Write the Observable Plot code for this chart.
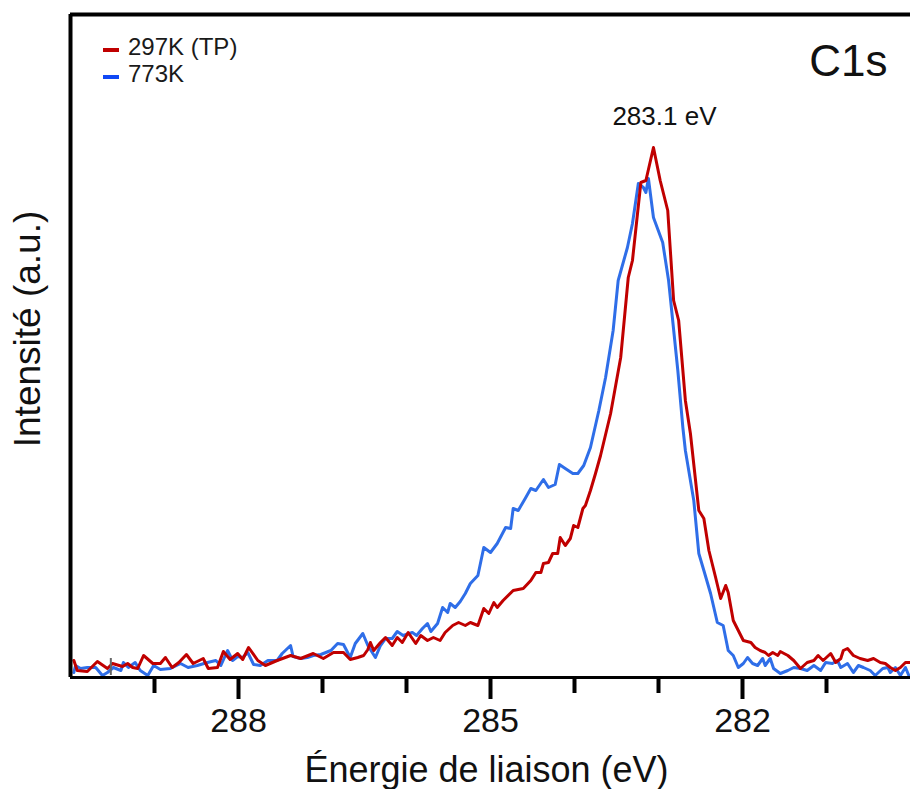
<!DOCTYPE html>
<html><head><meta charset="utf-8">
<script src="https://cdn.jsdelivr.net/npm/d3@7"></script>
<script src="https://cdn.jsdelivr.net/npm/@observablehq/plot@0.6"></script>
<style>
body{margin:0;background:#fff;}
#wrap{position:relative;width:910px;height:789px;font-family:"Liberation Sans",Arial,sans-serif;}
#legend{position:absolute;left:103px;top:33px;font-size:24px;line-height:27px;color:#1a1a1a;}
.item{display:flex;align-items:center;white-space:nowrap;}
.sw{display:inline-block;width:16px;height:4px;margin-right:9px;position:relative;top:3px;}
</style></head><body><div id="wrap"><div id="legend"></div></div>
<script>
// Binding energy (eV) and intensity (a.u.)
const redE = [289.96,289.92,289.80,289.68,289.56,289.50,289.38,289.32,289.26,289.20,
289.13,289.02,288.93,288.87,288.79,288.71,288.62,288.54,288.42,288.36,
288.25,288.18,288.10,288.01,287.95,287.88,287.77,287.68,287.54,287.38,
287.26,287.11,286.99,286.87,286.75,286.67,286.58,286.51,286.46,286.43,
286.39,286.31,286.25,286.17,286.11,286.05,285.98,285.89,285.83,285.75,
285.68,285.60,285.54,285.45,285.38,285.30,285.24,285.15,285.08,285.02,
284.96,284.92,284.85,284.73,284.61,284.52,284.46,284.40,284.37,284.31,
284.26,284.20,284.17,284.11,284.05,284.01,283.96,283.90,283.87,283.81,
283.75,283.69,283.63,283.57,283.51,283.45,283.36,283.31,283.21,283.15,
283.06,282.98,282.89,282.82,282.76,282.68,282.62,282.52,282.46,282.40,
282.32,282.26,282.20,282.17,282.11,282.05,281.99,281.90,281.85,281.79,
281.73,281.69,281.64,281.58,281.55,281.46,281.39,281.31,281.23,281.15,
281.10,281.04,280.95,280.89,280.83,280.80,280.75,280.68,280.60,280.51,
280.44,280.36,280.30,280.24,280.18,280.12,280.06,280.00];
const redI = [17,7,6,16,9,14,11,14,10,9,
22,14,14,20,10,15,23,14,19,9,
10,26,18,24,18,30,17,12,17,22,
19,24,19,25,25,18,20,22,28,35,
27,35,40,32,40,35,45,34,42,37,
40,37,45,52,55,52,55,52,69,64,
75,70,77,87,89,97,105,105,114,115,
124,124,140,132,139,152,150,169,172,187,
204,222,243,264,292,320,400,417,495,497,
530,497,467,377,357,277,244,167,159,127,
100,79,92,85,57,47,37,35,30,27,
25,22,25,22,26,22,17,9,15,17,
22,17,24,15,19,27,29,22,19,17,
19,15,14,10,7,10,15,15];

const blueE = [289.96,289.94,289.88,289.80,289.70,289.62,289.56,289.49,289.40,289.37,
289.31,289.23,289.17,289.08,289.01,288.93,288.81,288.69,288.60,288.49,
288.37,288.27,288.21,288.13,288.07,288.01,287.95,287.89,287.82,287.74,
287.65,287.54,287.48,287.38,287.35,287.26,287.18,287.11,287.02,286.90,
286.82,286.75,286.67,286.61,286.52,286.46,286.37,286.31,286.25,286.17,
286.11,286.04,285.93,285.88,285.81,285.75,285.71,285.63,285.57,285.51,
285.48,285.42,285.36,285.30,285.24,285.15,285.08,285.00,284.92,284.82,
284.76,284.73,284.67,284.58,284.52,284.46,284.37,284.31,284.23,284.18,
284.11,284.02,283.96,283.89,283.81,283.71,283.63,283.54,283.48,283.37,
283.31,283.24,283.18,283.15,283.12,283.06,282.95,282.88,282.77,282.71,
282.68,282.58,282.52,282.46,282.38,282.30,282.23,282.17,282.11,282.05,
281.99,281.94,281.88,281.82,281.76,281.73,281.67,281.63,281.55,281.46,
281.39,281.31,281.23,281.15,281.07,281.01,280.93,280.87,280.83,280.75,
280.68,280.62,280.56,280.48,280.42,280.33,280.27,280.24,280.18,280.12,
280.06,280.02];
const blueI = [5,12,9,10,10,2,5,10,7,15,
10,15,7,2,12,8,9,14,10,12,
15,17,12,27,17,21,20,25,13,12,
17,17,24,32,21,19,20,22,23,27,
34,33,20,34,44,32,20,32,39,39,
46,42,45,42,49,54,46,54,70,65,
74,70,76,84,94,102,130,125,134,150,
149,169,167,180,189,187,198,190,193,213,
209,204,204,212,230,267,300,347,397,430,
454,494,490,485,499,460,435,397,307,250,
227,177,124,107,84,55,52,27,22,10,
14,20,14,12,19,12,19,9,4,7,
10,9,7,12,7,15,14,17,10,14,
5,12,10,7,2,9,10,5,10,2,
10,2];

const seriesNames = ["297K (TP)", "773K"];
const seriesColors = ["#c00000", "#2f6ee8"];
const legendSwatch = ["#c00000", "#1048f5"];
const majorTicks = [288, 285, 282];
const minorTicks = [289, 287, 286, 284, 283, 281];
const markerE = [289.52];
const peakLabel = "283.1 eV";
const xTitle = "Énergie de liaison (eV)";
const yTitle = "Intensité (a.u.)";
const panelLabel = "C1s";

const red = redE.map((e, i) => ({E: e, I: redI[i]}));
const blue = blueE.map((e, i) => ({E: e, I: blueI[i]}));
const peak = red.reduce((a, b) => (b.I > a.I ? b : a));

const plot = Plot.plot({
  width: 910, height: 789,
  marginLeft: 70, marginRight: 0, marginTop: 14, marginBottom: 112,
  style: {fontFamily: "Liberation Sans, Arial, sans-serif", background: "white", color: "#111", overflow: "visible"},
  x: {domain: [290, 280]},
  y: {domain: [0, 663], axis: null},
  marks: [
    Plot.lineY(blue, {x: "E", y: "I", stroke: seriesColors[1], strokeWidth: 3}),
    Plot.lineY(red, {x: "E", y: "I", stroke: seriesColors[0], strokeWidth: 3}),
    Plot.ruleX(markerE, {y1: 2, y2: 19, stroke: "#666", strokeWidth: 2}),
    Plot.ruleX([290], {stroke: "#000", strokeWidth: 4}),
    Plot.ruleY([0], {stroke: "#000", strokeWidth: 3}),
    Plot.ruleY([663], {stroke: "#000", strokeWidth: 4}),
    Plot.axisX(minorTicks, {tickSize: 16, strokeWidth: 4, stroke: "#000", tickFormat: () => "", label: null}),
    Plot.axisX(majorTicks, {tickSize: 22, strokeWidth: 4, stroke: "#000", tickPadding: 8, fontSize: 34, tickFormat: d3.format("d"), label: null}),
    Plot.text([xTitle], {frameAnchor: "bottom", dx: -4, dy: 104, lineAnchor: "bottom", fontSize: 36, fill: "#111"}),
    Plot.text([yTitle], {frameAnchor: "left", textAnchor: "middle", dx: -42, dy: -17, rotate: -90, fontSize: 37, fill: "#111"}),
    Plot.text([panelLabel], {frameAnchor: "top-right", dx: -23, dy: 30, lineAnchor: "top", textAnchor: "end", fontSize: 44, fill: "#111"}),
    Plot.text([peak], {x: "E", y: "I", text: () => peakLabel, dx: 11, dy: -31, fontSize: 26, fill: "#111"})
  ]
});
document.getElementById("wrap").prepend(plot);

const legend = document.getElementById("legend");
seriesNames.forEach((name, i) => {
  const item = document.createElement("div");
  item.className = "item";
  const sw = document.createElement("span");
  sw.className = "sw";
  sw.style.background = legendSwatch[i];
  const t = document.createElement("span");
  t.textContent = name;
  item.append(sw, t);
  legend.append(item);
});
</script>
</body></html>
